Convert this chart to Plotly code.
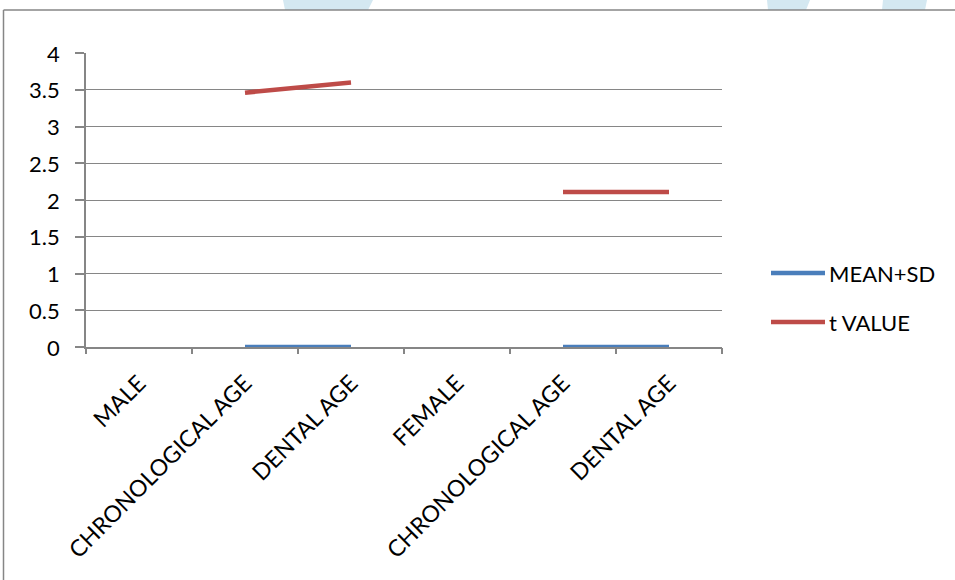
import plotly.graph_objects as go

# Category labels along the x axis (groups repeat, so positions are numeric)
categories = ["MALE", "CHRONOLOGICAL AGE", "DENTAL AGE",
              "FEMALE", "CHRONOLOGICAL AGE", "DENTAL AGE"]
mean_sd = [None, 0, 0, None, 0, 0]
t_value = [None, 3.46, 3.6, None, 2.11, 2.11]

series_names = ["MEAN+SD", "t VALUE"]
series_colors = ["#4a7ebb", "#be4b48"]
y_ticks = [0, 0.5, 1, 1.5, 2, 2.5, 3, 3.5, 4]

W, H = 955, 580
L, R, T, B = 86, 233, 53, 233
PW, PH = W - L - R, H - T - B


def px(x):
    return (x - L) / PW


def py(y):
    return (H - B - y) / PH


FONT = "Lato"
pos = list(range(len(categories)))

fig = go.Figure()
for name, vals, col in zip(series_names, [mean_sd, t_value], series_colors):
    fig.add_trace(go.Scatter(
        x=pos, y=vals, name=name, mode="lines",
        line=dict(color=col, width=4.5),
        connectgaps=False, cliponaxis=False, showlegend=False,
        xaxis="x", yaxis="y",
    ))

# invisible trace carrying the boundary tick marks
fig.add_trace(go.Scatter(x=[-0.5, 5.5], y=[0, 0], mode="lines",
                         line=dict(width=0), showlegend=False,
                         hoverinfo="skip", xaxis="x2", yaxis="y"))

fig.update_layout(
    width=W, height=H,
    margin=dict(l=L, r=R, t=T, b=B),
    paper_bgcolor="white", plot_bgcolor="white",
    font=dict(family=FONT, size=18, color="#000000"),
    xaxis=dict(
        range=[-0.5, 5.5], tickvals=pos, ticktext=categories,
        tickangle=-45, ticks="", showgrid=False, zeroline=False,
        showline=True, linecolor="#868686", linewidth=1.5,
        ticklabelstandoff=12, tickfont=dict(family=FONT, size=23),
    ),
    xaxis2=dict(
        range=[-0.5, 5.5], overlaying="x", tickvals=[i - 0.5 for i in range(7)],
        ticks="outside", ticklen=6, tickcolor="#868686", tickwidth=1.5,
        showticklabels=False, showgrid=False, zeroline=False, showline=False,
    ),
    yaxis=dict(
        range=[0, 4], tickvals=y_ticks, showticklabels=False,
        ticks="outside", ticklen=9, tickcolor="#868686", tickwidth=1.5,
        showgrid=True, gridcolor="#868686", gridwidth=1.2,
        zeroline=False, showline=True, linecolor="#868686", linewidth=1.5,
    ),
)

annotations = []
# value labels on the left, set a little away from the tick marks
for v in y_ticks:
    annotations.append(dict(xref="paper", yref="y", x=px(61), y=v,
                            text=f"{v:g}", showarrow=False, xanchor="right",
                            yanchor="middle", borderpad=0,
                            font=dict(family=FONT, size=22)))

shapes = []
# light watermark stripes along the top edge
for (x0t, x1t, x0b, x1b) in [(283, 373, 285, 368), (767, 810, 768, 806), (883, 927, 882, 925)]:
    shapes.append(dict(
        type="path", xref="paper", yref="paper", layer="below",
        path=f"M {px(x0t)} {py(0)} L {px(x1t)} {py(0)} L {px(x1b)} {py(10)} L {px(x0b)} {py(10)} Z",
        fillcolor="#d4e8f1", line=dict(width=0),
    ))
# chart frame (top and left edges)
shapes.append(dict(type="line", xref="paper", yref="paper",
                   x0=px(3.5), x1=px(960), y0=py(10), y1=py(10),
                   line=dict(color="#868686", width=1.5)))
shapes.append(dict(type="line", xref="paper", yref="paper",
                   x0=px(3.5), x1=px(3.5), y0=py(10), y1=py(585),
                   line=dict(color="#868686", width=1.5)))

# legend drawn as line samples with labels
for i, (name, col) in enumerate(zip(series_names, series_colors)):
    yy = 273 + i * 49
    shapes.append(dict(type="line", xref="paper", yref="paper",
                       x0=px(771), x1=px(825), y0=py(yy), y1=py(yy),
                       line=dict(color=col, width=4.5)))
    annotations.append(dict(xref="paper", yref="paper", x=px(828), y=py(yy),
                            text=name, showarrow=False, xanchor="left",
                            yanchor="middle", borderpad=0,
                            font=dict(family=FONT, size=22)))

fig.update_layout(shapes=shapes, annotations=annotations)
fig.write_html("out.html")
